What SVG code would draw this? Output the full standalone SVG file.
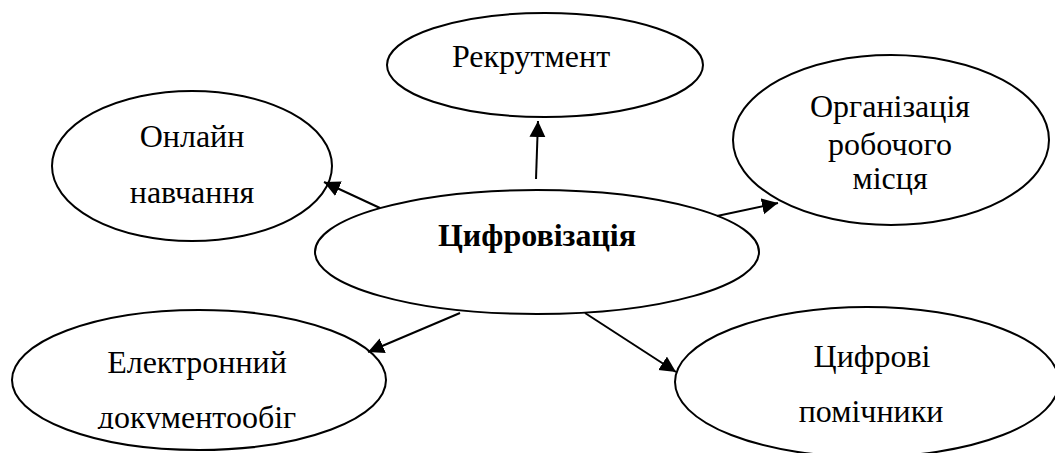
<svg xmlns="http://www.w3.org/2000/svg" width="1055" height="453" viewBox="0 0 1055 453">
<style>
.n{fill:#fff;stroke:#000;stroke-width:2}
.t{font-family:"Liberation Serif","Times New Roman",serif;font-size:32px;fill:#000;text-anchor:middle}
.b{font-weight:bold}
.c{stroke:#000;stroke-width:2;fill:none;marker-end:url(#ah)}
</style>
<defs>
<marker id="ah" markerUnits="userSpaceOnUse" markerWidth="18" markerHeight="18" refX="16" refY="8" orient="auto">
<path d="M0,0 L16,8 L0,16 z" fill="#000"/>
</marker>
<clipPath id="clipDoc"><rect x="0" y="0" width="1055" height="429"/></clipPath>
</defs>
<rect width="1055" height="453" fill="#fff"/>
<g id="n-recruitment">
<ellipse class="n" cx="545" cy="65" rx="158" ry="52"/>
<text class="t" x="531" y="67">Рекрутмент</text>
</g>
<g id="n-online">
<ellipse class="n" cx="192" cy="166" rx="140" ry="75"/>
<text class="t" x="192" y="147">Онлайн</text>
<text class="t" x="192" y="203">навчання</text>
</g>
<g id="n-workplace">
<ellipse class="n" cx="891" cy="140" rx="158" ry="85"/>
<text class="t" x="890" y="117">Організація</text>
<text class="t" x="890" y="155">робочого</text>
<text class="t" x="890" y="189">місця</text>
</g>
<g id="n-center">
<ellipse class="n" cx="537" cy="252" rx="222" ry="62"/>
<text class="t b" x="537" y="246">Цифровізація</text>
</g>
<g id="n-docs">
<ellipse class="n" cx="199" cy="380" rx="187" ry="70"/>
<text class="t" x="197" y="373">Електронний</text>
<text class="t" x="197" y="428" clip-path="url(#clipDoc)">документообіг</text>
</g>
<g id="n-assistants">
<ellipse class="n" cx="867" cy="382" rx="192" ry="75"/>
<text class="t" x="872" y="367">Цифрові</text>
<text class="t" x="871" y="422">помічники</text>
</g>
<g id="connectors">
<line class="c" x1="536" y1="179" x2="538" y2="121"/>
<line class="c" x1="380" y1="208" x2="324" y2="182"/>
<line class="c" x1="717" y1="216" x2="778" y2="203"/>
<line class="c" x1="460" y1="313" x2="368" y2="352"/>
<line class="c" x1="585" y1="313" x2="676" y2="372"/>
</g>
</svg>
